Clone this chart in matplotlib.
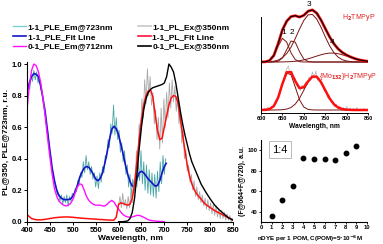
import matplotlib.pyplot as plt
import numpy as np
from matplotlib.lines import Line2D

plt.rcParams['font.family'] = ['Liberation Sans', 'DejaVu Sans']
plt.rcParams['font.weight'] = 'bold'

# ---- main panel data (wavelength in nm, intensity in r.u.) ----
ple_noisy = [0.80, 0.86, 0.84, 0.93, 0.89, 0.96, 0.90, 0.95, 0.88, 0.91,
             0.84, 0.82, 0.74, 0.72, 0.62, 0.58, 0.49, 0.44, 0.35, 0.31,
             0.25, 0.22, 0.17, 0.18, 0.13, 0.17, 0.11, 0.16, 0.12, 0.17,
             0.10, 0.16, 0.13, 0.18, 0.15, 0.21, 0.19, 0.26, 0.24, 0.31,
             0.28, 0.38, 0.31, 0.42, 0.33, 0.38, 0.30, 0.35, 0.27, 0.31,
             0.22, 0.29, 0.21, 0.31, 0.25, 0.35, 0.31, 0.42, 0.40, 0.52,
             0.47, 0.62, 0.56, 0.74, 0.55, 0.66, 0.52, 0.58, 0.44, 0.50,
             0.38, 0.45, 0.30, 0.36, 0.22, 0.30, 0.16, 0.27, 0.18, 0.31,
             0.22, 0.38, 0.26, 0.45, 0.24, 0.38, 0.20, 0.36, 0.18, 0.33,
             0.17, 0.31, 0.16, 0.30, 0.15, 0.32, 0.19, 0.38, 0.24, 0.42,
             0.30, 0.40]
ple_noisy_wl = np.linspace(400, 703, len(ple_noisy))

ple_fit_wl = list(range(400, 705, 5)) + [704]
ple_fit = [0.82, 0.88, 0.92, 0.94, 0.935, 0.92, 0.86, 0.78, 0.69, 0.57,
           0.45, 0.34, 0.26, 0.20, 0.165, 0.15, 0.14, 0.14, 0.14, 0.145,
           0.16, 0.19, 0.23, 0.28, 0.315, 0.34, 0.35, 0.345, 0.325, 0.30,
           0.27, 0.26, 0.275, 0.31, 0.37, 0.44, 0.52, 0.585, 0.605, 0.59,
           0.55, 0.49, 0.43, 0.36, 0.30, 0.255, 0.225, 0.23, 0.27, 0.31,
           0.32, 0.31, 0.29, 0.27, 0.255, 0.24, 0.225, 0.23, 0.26, 0.31,
           0.35, 0.37]

ple01_wl = list(range(400, 675, 5)) + [680, 690, 700]
ple01 = [0.71, 0.86, 0.96, 1.0, 0.99, 0.95, 0.88, 0.78, 0.66, 0.53,
         0.41, 0.30, 0.21, 0.16, 0.13, 0.115, 0.105, 0.10, 0.105, 0.115,
         0.14, 0.18, 0.22, 0.24, 0.235, 0.20, 0.16, 0.135, 0.12, 0.11,
         0.105, 0.105, 0.105, 0.10, 0.10, 0.11, 0.125, 0.135, 0.125, 0.10,
         0.08, 0.06, 0.045, 0.035, 0.03, 0.028, 0.03, 0.035, 0.04, 0.04,
         0.035, 0.028, 0.02, 0.012, 0.008, 0.004, 0.002, 0.0]

pl_noisy = [0.10, 0.16, 0.09, 0.18, 0.10, 0.14, 0.08, 0.16, 0.09, 0.19,
            0.12, 0.26, 0.20, 0.45, 0.35, 0.62, 0.55, 0.78, 0.66, 0.90,
            0.75, 0.97, 0.80, 0.92, 0.74, 0.82, 0.62, 0.71, 0.52, 0.66,
            0.46, 0.72, 0.50, 0.78, 0.60, 0.82, 0.66, 0.88, 0.72, 0.90,
            0.76, 0.86, 0.70, 0.80, 0.62, 0.70, 0.50, 0.58, 0.40, 0.46,
            0.32, 0.36, 0.25, 0.30, 0.20, 0.26, 0.16, 0.22, 0.14, 0.19,
            0.12, 0.17, 0.10, 0.15, 0.08, 0.14, 0.07, 0.12, 0.05, 0.11,
            0.04, 0.10, 0.03, 0.08, 0.02, 0.07, 0.02, 0.06, 0.01, 0.05,
            0.01, 0.04, 0.0, 0.02]
pl_noisy_wl = np.linspace(600, 849, len(pl_noisy))

pl_fit_wl = list(range(400, 600, 10)) + [595] + list(range(600, 805, 5)) + list(range(810, 855, 10))
pl_fit = [0.045, 0.02, 0.012, 0.012, 0.015, 0.02, 0.025, 0.028, 0.03, 0.03,
          0.028, 0.025, 0.022, 0.02, 0.018, 0.016, 0.014, 0.012, 0.01, 0.01,
          0.03,
          0.11, 0.12, 0.115, 0.11, 0.105, 0.11, 0.15, 0.24, 0.38, 0.52,
          0.65, 0.74, 0.80, 0.83, 0.835, 0.79, 0.68, 0.58, 0.52, 0.53,
          0.60, 0.67, 0.74, 0.785, 0.80, 0.795, 0.75, 0.65, 0.55, 0.45,
          0.36, 0.29, 0.24, 0.205, 0.18, 0.16, 0.145, 0.125, 0.11, 0.10,
          0.09,
          0.07, 0.055, 0.04, 0.025, 0.01]

pl01_wl = [600, 610] + list(range(620, 765, 5)) + list(range(770, 855, 10))
pl01 = [0.0, 0.0,
        0.005, 0.02, 0.06, 0.15, 0.30, 0.46, 0.60, 0.71, 0.78, 0.82,
        0.84, 0.85, 0.855, 0.86, 0.865, 0.87, 0.88, 0.92, 1.0, 0.98,
        0.95, 0.88, 0.79, 0.70, 0.62, 0.55, 0.49, 0.43, 0.38,
        0.31, 0.24, 0.19, 0.145, 0.105, 0.075, 0.05, 0.025, 0.01]

# ---- top-right panel: gaussian deconvolution (heights in arbitrary units) ----
dec_wl = list(range(600, 855, 10))
up_c1 = [0, 0.13, 1.2, 5.7, 15.7, 23.7, 19.9, 9.2, 2.4, 0.3] + [0] * 16
up_c2 = [0, 0, 0, 0.1, 0.7, 4.0, 12.3, 21.0, 19.8, 10.3, 3.0, 0.5, 0.05] + [0] * 13
up_c3 = [0, 0.1, 0.3, 0.8, 1.9, 4.3, 8.4, 14.8, 23.4, 33.0, 41.6, 47.1, 47.6,
         43.0, 34.9, 25.3, 16.4, 9.5, 4.9, 2.3, 1.0, 0.4, 0.1, 0, 0, 0]
up_c4 = [0, 0, 0, 0, 0, 0.1, 0.2, 0.4, 0.7, 1.3, 2.1, 3.2, 4.5,
         5.9, 7.2, 8.3, 8.9, 8.9, 8.3, 7.2, 5.9, 4.5, 3.2, 2.1, 1.3, 0.7]
up_sum = [0, 0.2, 1.5, 6.6, 18.3, 32.1, 40.8, 45.4, 46.3, 44.9, 46.7, 50.8, 52.1,
          48.9, 42.1, 33.6, 25.3, 18.4, 13.2, 9.5, 6.9, 4.9, 3.3, 2.1, 1.3, 0.7]

lo_c1 = [0, 0.1, 0.9, 4.0, 12.3, 25.9, 36.8, 35.4, 23.0, 10.1, 3.0, 0.6, 0.1] + [0] * 13
lo_c2 = [0, 0, 0, 0, 0.1, 0.3, 0.9, 2.5, 5.9, 11.7, 19.8, 28.0, 33.3,
         33.3, 28.0, 19.8, 11.7, 5.9, 2.5, 0.9, 0.3, 0.1, 0, 0, 0, 0]
lo_sum = [0, 0.1, 0.9, 4.0, 12.4, 26.2, 37.7, 37.9, 28.9, 21.8, 22.8, 28.6, 33.4,
          33.3, 28.0, 19.8, 11.7, 5.9, 2.5, 0.9, 0.3, 0.1, 0, 0, 0, 0]
lo_noisy = [1.5, -0.5, 2.0, 0.5, 3.0, 0.5, 3.5, 2.5, 6.5, 7.0,
            14.0, 15.5, 24.0, 27.0, 36.0, 41.0, 44.0, 36.0, 39.0, 31.0,
            31.5, 24.0, 25.0, 19.5, 25.0, 21.0, 28.0, 25.5, 33.0, 31.0,
            38.0, 32.0, 39.0, 30.0, 31.5, 26.0, 25.0, 19.0, 20.0, 12.0,
            14.5, 7.5, 9.0, 3.0, 5.5, 1.5, 4.0, 0.0, 2.5, -0.5,
            3.5, 0.0, 2.0, -0.5, 1.5, 0.0, 2.5, -0.5, 1.0, 0.0,
            1.5, -0.5, 0.5]
lo_noisy_wl = np.linspace(600, 848, len(lo_noisy))

# ---- bottom-right panel ----
n_dye = [1, 2, 3, 4, 5, 6, 7, 8, 9]
f_sum = [36, 51.5, 65, 92, 91, 91, 90.5, 97.5, 104.5]

fig = plt.figure(figsize=(3.83, 2.44), dpi=100)

# main panel
ax = fig.add_axes([0.0705, 0.0914, 0.5379, 0.654])
l1, = ax.plot(ple_noisy_wl, ple_noisy, color='#4aa6a6', lw=0.6)
l2, = ax.plot(ple_fit_wl, ple_fit, color='#1414c8', lw=1.2)
l4, = ax.plot(pl_noisy_wl, pl_noisy, color='#a8a8a8', lw=0.6)
l3, = ax.plot(ple01_wl, ple01, color='#ff10ff', lw=1.0)
l5, = ax.plot(pl_fit_wl, pl_fit, color='#ff1010', lw=1.1)
l6, = ax.plot(pl01_wl, pl01, color='black', lw=1.0)
ax.set_xlim(400, 850)
ax.set_ylim(0, 1.012)
ax.set_xticks(range(400, 851, 50))
ax.set_yticks(np.arange(0, 1.01, 0.2))
ax.set_yticklabels(['0.0', '0.2', '0.4', '0.6', '0.8', '1.0'])
ax.tick_params(labelsize=5.5, length=2, width=0.7, pad=1.5)
for s in ['top', 'right']:
    ax.spines[s].set_visible(False)
for s in ['left', 'bottom']:
    ax.spines[s].set_linewidth(0.8)
ax.set_xlabel('Wavelength, nm', fontsize=6, fontweight='bold', labelpad=1)
ax.set_ylabel('PL@350, PLE@723nm, r.u.', fontsize=6, fontweight='bold', labelpad=2)

leg_handles = [Line2D([], [], color='#80d0d0', lw=1.0),
               Line2D([], [], color='#1414c8', lw=1.2),
               Line2D([], [], color='#ff10ff', lw=1.0),
               Line2D([], [], color='#c8c8c8', lw=1.2),
               Line2D([], [], color='#ff1040', lw=1.2),
               Line2D([], [], color='black', lw=1.2)]
leg_labels = ['1-1_PLE_Em@723nm', '1-1_PLE_Fit Line', '0-1_PLE_Em@712nm',
              '1-1_PL_Ex@350nm', '1-1_PL_Fit Line', '0-1_PL_Ex@350nm']
fig.legend(leg_handles, leg_labels, ncol=2, loc='upper left',
           bbox_to_anchor=(0.035, 0.904), frameon=False, fontsize=6,
           handlelength=1.5, handletextpad=0.2, columnspacing=3.0,
           labelspacing=0.22, borderpad=0, borderaxespad=0)

# top-right panel
ax2 = fig.add_axes([0.6815, 0.5369, 0.2794, 0.4631])
up0, lo0 = 51, 3
ax2.plot(lo_noisy_wl, np.array(lo_noisy) + lo0, color='#b0b0b0', lw=0.5)
for comp in [up_c1, up_c2, up_c3, up_c4]:
    ax2.plot(dec_wl, np.array(comp) + up0, color='#7a1414', lw=0.7)
for comp in [lo_c1, lo_c2]:
    ax2.plot(dec_wl, np.array(comp) + lo0, color='#7a1414', lw=0.7)
ax2.plot(dec_wl, np.array(up_sum) + up0, color='#ff1010', lw=2.0)
ax2.plot(dec_wl, np.array(up_sum) + up0, color='black', lw=0.8)
ax2.plot(dec_wl, np.array(lo_sum) + lo0, color='#ff1010', lw=1.8)
ax2.set_xlim(600, 850)
ax2.set_ylim(0, 113)
ax2.set_xticks(range(600, 851, 50))
ax2.set_yticks([])
ax2.tick_params(labelsize=4, length=1.5, width=0.6, pad=1)
for s in ['top', 'right']:
    ax2.spines[s].set_visible(False)
ax2.spines['left'].set_bounds(0, 96)
ax2.spines['left'].set_linewidth(0.7)
ax2.spines['bottom'].set_linewidth(0.7)
ax2.set_xlabel('Wavelength, nm', fontsize=4.8, fontweight='bold', labelpad=1)
ax2.text(828, 95, 'H$_2$TMPyP', color='#e02020', fontsize=5, fontweight='normal',
         ha='center', va='center')
ax2.text(803, 36, '{Mo$_{132}$}H$_2$TMPyP', color='#e02020', fontsize=5,
         fontweight='normal', ha='center', va='center', clip_on=False)
for lab, xw, yv in [('1', 652, 80), ('2', 673, 80), ('3', 712, 108), ('4', 766, 70)]:
    ax2.text(xw, yv, lab, fontsize=6, fontweight='normal', ha='center', va='center')

# bottom-right panel
ax3 = fig.add_axes([0.6815, 0.0902, 0.2768, 0.336])
ax3.plot(n_dye, f_sum, 'o', color='black', ms=3.2)
ax3.set_xlim(0, 10)
ax3.set_ylim(30, 110)
ax3.set_xticks(range(0, 11))
ax3.set_yticks([40, 60, 80, 100])
ax3.tick_params(labelsize=4.2, length=1.5, width=0.6, pad=1)
for s in ['top', 'right']:
    ax3.spines[s].set_visible(False)
ax3.spines['left'].set_linewidth(0.8)
ax3.spines['bottom'].set_linewidth(0.8)
ax3.set_xlabel('nDYE per 1 POM, C(POM)=5$\\cdot$10$^{-6}$M', fontsize=4.5,
               fontweight='bold', labelpad=1)
ax3.xaxis.set_label_coords(0.46, -0.14)
ax3.set_ylabel('(F@664+F@720), a.u.', fontsize=5, fontweight='bold', labelpad=1)
ax3.text(1.75, 100.5, '1:4', fontsize=8, fontweight='normal', ha='center', va='center',
         bbox=dict(boxstyle='square,pad=0.3', fc='white', ec='#b0b0b0', lw=0.6))

fig.savefig('out.png', dpi=100)
